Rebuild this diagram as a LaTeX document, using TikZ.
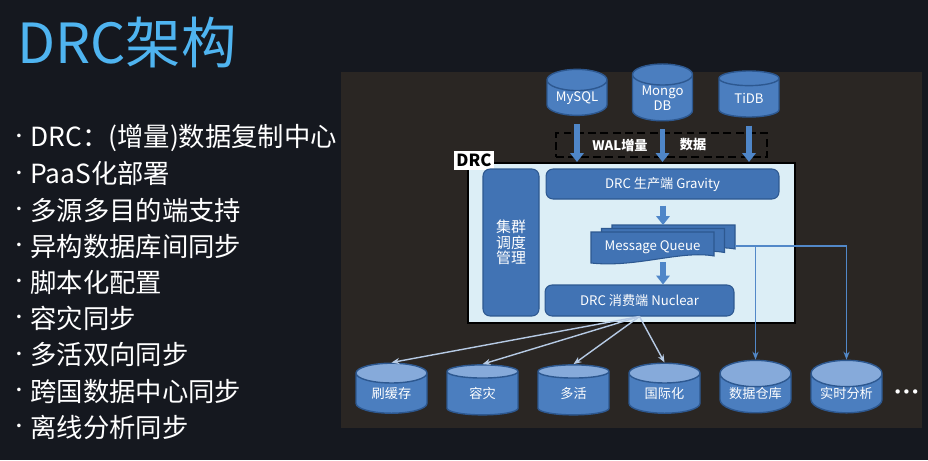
\documentclass[tikz,border=0pt]{standalone}
\usepackage{fontspec}
\setmainfont{Noto Sans CJK SC}
\newfontfamily\symfont{DejaVu Sans}
\usepackage{tikz}
\usetikzlibrary{shapes.geometric,arrows.meta}

\definecolor{slidebg}{HTML}{15181F}
\definecolor{panelbg}{HTML}{2A2623}
\definecolor{titleblue}{HTML}{4FB4F0}
\definecolor{boxblue}{HTML}{4173B4}
\definecolor{boxedge}{HTML}{2D5890}
\definecolor{drcfill}{HTML}{DCEEF6}
\definecolor{dbbody}{HTML}{4B7EBF}
\definecolor{dbtop}{HTML}{86AADA}
\definecolor{feedblue}{HTML}{4F86C8}
\definecolor{fangray}{HTML}{B6CAE4}
\definecolor{linkblue}{HTML}{5288C8}

% one page of the message queue stack
\newcommand{\mqpage}[2]{%
  \draw[page] (#1,#2) -- ++(123,0) -- ++(0,24)
    .. controls +(-33,-6) and +(45,5) .. ++(-123,7) -- cycle;}

\begin{document}
\begin{tikzpicture}[x=0.02cm, y=-0.02cm,
    db/.style={cylinder, shape border rotate=90, aspect=0.5, draw=boxedge,
      line width=0.8pt, cylinder uses custom fill, cylinder body fill=dbbody,
      text=white, align=center, inner sep=0pt,
      font=\fontsize{7.5}{8.5}\selectfont},
    srcdb/.style={db, cylinder end fill=dbbody, minimum width=1.2cm, minimum height=0.92cm},
    sinkdb/.style={db, cylinder end fill=dbtop, minimum width=1.42cm, minimum height=1cm},
    part/.style={draw=boxedge, fill=boxblue, rounded corners=4pt, line width=0.6pt,
      text=white, inner sep=0pt, font=\fontsize{7.5}{9}\selectfont},
    page/.style={draw=boxedge, fill=boxblue, line width=0.6pt},
    feed/.style={draw=feedblue, line width=3.2pt, -{Triangle[width=7.5pt,length=5pt]}},
    fan/.style={draw=fangray, line width=0.8pt, -{Stealth[length=4.5pt,width=3.5pt]}},
    link/.style={draw=linkblue, line width=0.7pt, -{Stealth[length=4.5pt,width=3.5pt]}},
    item/.style={anchor=west, text=white, inner sep=0pt, font=\fontsize{15}{18}\selectfont},
  ]
  % Define background and panel
  \fill[slidebg] (0,0) rectangle (928,460);
  \fill[panelbg] (341,72) rectangle (922,428);

  % Title and bullet list
  \node[anchor=west, inner sep=0pt, text=titleblue, font=\fontsize{31.5}{36}\selectfont]
    (title) at (17,42) {DRC架构};
  \foreach \txt [count=\i] in {DRC：(增量)数据复制中心, PaaS化部署, 多源多目的端支持,
      异构数据库间同步, 脚本化配置, 容灾同步, 多活双向同步, 跨国数据中心同步, 离线分析同步} {
    \node[text=white, inner sep=0pt, font=\symfont\fontsize{7}{7}\selectfont]
      (dot\i) at (19,101.5+36.2*\i) {•};
    \node[item] (item\i) at (30,101.5+36.2*\i) {\txt};
  }

  % Draw the source databases
  \node[srcdb] (mysql) at (577,98) {MySQL};
  \node[srcdb] (mongo) at (662.5,98) {Mongo\\DB};
  \node[srcdb] (tidb) at (749,98) {TiDB};

  % Draw the DRC box
  \node[draw=black, line width=1.2pt, fill=drcfill, minimum width=6.54cm,
    minimum height=3.2cm, inner sep=0pt] (drc) at (631.5,243) {};
  \node[fill=white, minimum width=0.8cm, minimum height=0.38cm, inner sep=0pt,
    font=\fontsize{9.5}{10}\selectfont\bfseries] (drclabel) at (474,160.5) {DRC};

  % WAL box with the feed arrows
  \node[draw=black, dashed, dash pattern=on 4.5pt off 2.5pt, line width=1.1pt,
    minimum width=4.22cm, minimum height=0.48cm] (wal) at (661.5,145) {};
  \node[text=white, font=\fontsize{7.5}{8}\selectfont\bfseries] (walinc) at (620,145) {WAL增量};
  \node[text=white, font=\fontsize{7.5}{8}\selectfont\bfseries] (waldata) at (693,145) {数据};
  \foreach \src in {mysql,mongo,tidb}
    \draw[feed, shorten <=4.5pt] (\src.south) -- (\src.south |- drc.north);

  % Parts inside DRC
  \node[part, minimum width=1.12cm, minimum height=2.94cm, align=center,
    font=\fontsize{8.5}{8.8}\selectfont] (cluster) at (511,242.5) {集群\\调度\\管理};
  \node[part, minimum width=4.66cm, minimum height=0.6cm] (gravity) at (662.5,184)
    {DRC 生产端 Gravity};
  \node[part, minimum width=3.78cm, minimum height=0.62cm] (nuclear) at (639.5,300.5)
    {DRC 消费端 Nuclear};

  % Message queue stack
  \mqpage{612}{225}
  \mqpage{601.5}{228.5}
  \mqpage{591}{232}
  \node[text=white, inner sep=0pt, font=\fontsize{7.5}{9}\selectfont] (mq) at (652.5,247.5)
    {Message Queue};
  \coordinate (mqtop) at (663,225);
  \coordinate (mqbot) at (663,262);
  \coordinate (mqout) at (735,246);
  \draw[feed, shorten <=3.5pt] (gravity.south -| mqtop) -- (mqtop);
  \draw[feed] (mqbot) -- (mqbot |- nuclear.north);

  % Draw the target databases
  \foreach \name/\txt [count=\i from 0] in {cache/刷缓存, dr/容灾, active/多活,
      intl/国际化, dw/数据仓库, rt/实时分析}
    \node[sinkdb] (\name) at (391.5+91*\i,393.5) {\txt};
  \node[text=white, inner sep=0pt, font=\symfont\fontsize{8.5}{9}\selectfont]
    (more) at (906.5,394) {•••};

  % Connectors to the targets
  \foreach \name in {cache,dr,active,intl}
    \draw[fan] (nuclear.south) -- (\name.north);
  \draw[link] (mqout) -| (rt.north);
  \draw[link] (mqout -| dw.north) -- (dw.north);
\end{tikzpicture}
\end{document}
